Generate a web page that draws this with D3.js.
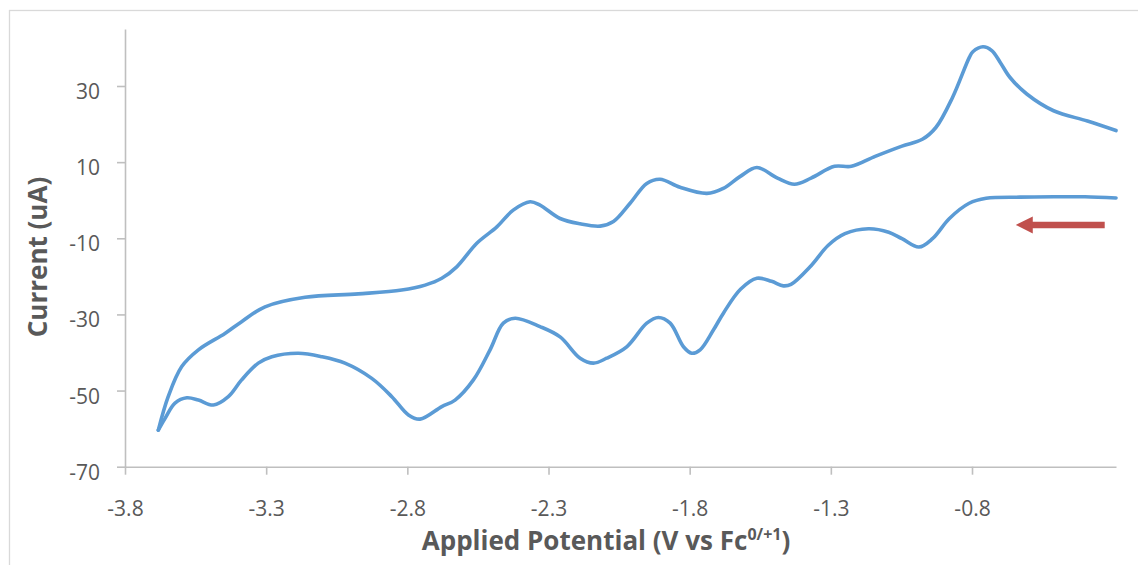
<!DOCTYPE html>
<html>
<head>
<meta charset="utf-8">
<script src="https://cdn.jsdelivr.net/npm/d3@7"></script>
<style>
  body { margin: 0; background: #fff; }
  svg { display: block; }
  text { font-family: "Open Sans", "Noto Sans", sans-serif; }
</style>
</head>
<body>
<svg id="chart" width="1138" height="565"></svg>
<script>
// Cyclic voltammogram: forward (cathodic) sweep from the rest potential toward -3.7 V,
// then the reverse (anodic) sweep back. Potentials in V vs Fc0/+1, currents in uA.
const forwardPotential = [-0.29, -0.40, -0.51, -0.63, -0.75, -0.81, -0.88, -0.94, -0.988, -1.048,
  -1.095, -1.167, -1.25, -1.31, -1.37, -1.441, -1.468, -1.51, -1.562, -1.62,
  -1.68, -1.716, -1.763, -1.793, -1.822, -1.869, -1.911, -1.952, -2.023, -2.094,
  -2.141, -2.188, -2.259, -2.33, -2.418, -2.46, -2.507, -2.566, -2.631, -2.678,
  -2.755, -2.796, -2.855, -2.926, -3.021, -3.103, -3.186, -3.28, -3.328, -3.387,
  -3.434, -3.487, -3.54, -3.581, -3.623, -3.658, -3.682];
const forwardCurrent = [0.6, 0.9, 0.9, 0.8, 0.5, -0.8, -4.8, -10.1, -12.3, -10.1,
  -8.4, -7.5, -8.8, -11.9, -17.2, -22.1, -22.5, -21.3, -20.5, -23.4,
  -29.6, -34.1, -39.3, -40.2, -38.5, -32.3, -30.8, -32.3, -38.5, -41.5,
  -42.8, -41.5, -35.9, -33.2, -31.0, -32.3, -39.3, -47.2, -52.5, -54.2,
  -57.5, -56.4, -51.6, -46.8, -42.8, -41.1, -40.2, -41.1, -42.8, -47.2,
  -51.6, -53.8, -52.5, -51.9, -53.3, -57.3, -60.4];

const reversePotential = [-3.682, -3.647, -3.599, -3.54, -3.446, -3.387, -3.304, -3.162, -2.974, -2.82,
  -2.737, -2.678, -2.625, -2.554, -2.483, -2.425, -2.365, -2.33, -2.259, -2.188,
  -2.117, -2.07, -2.011, -1.952, -1.905, -1.834, -1.739, -1.681, -1.622, -1.562,
  -1.489, -1.429, -1.37, -1.287, -1.227, -1.143, -1.048, -0.976, -0.928, -0.869,
  -0.809, -0.797, -0.761, -0.73, -0.70, -0.666, -0.606, -0.511, -0.391, -0.29];
const reverseCurrent = [-60.4, -51.6, -43.7, -39.3, -35.0, -31.9, -28.0, -25.5, -24.6, -23.6,
  -22.3, -20.5, -17.5, -11.3, -7.0, -2.6, -0.4, -1.3, -4.8, -6.2,
  -6.8, -5.6, -0.8, 4.4, 5.5, 3.4, 1.8, 3.1, 6.2, 8.6,
  5.8, 4.2, 5.8, 8.9, 8.9, 11.5, 14.2, 16.0, 19.1, 27.0,
  37.6, 39.0, 40.3, 39.3, 36.2, 32.3, 27.9, 23.5, 20.8, 18.3];

const xTickValues = [-3.8, -3.3, -2.8, -2.3, -1.8, -1.3, -0.8];
const yTickValues = [-70, -50, -30, -10, 10, 30];

// Scan-direction arrow (start and end potential, current level)
const arrowPotential = [-0.33, -0.645];
const arrowCurrent = [-6.5, -6.5];

const svg = d3.select("#chart");

// chart frame
svg.append("rect")
  .attr("x", 9.5).attr("y", 10.5)
  .attr("width", 1300).attr("height", 700)
  .attr("fill", "#fff").attr("stroke", "#D9D9D9").attr("stroke-width", 1.3);

const x = d3.scaleLinear().domain([-3.8, -0.29]).range([125, 1116]);
const y = d3.scaleLinear().domain([-70, 45]).range([466.7, 28.9]);

const axisColor = "#BFBFBF";
const labelColor = "#595959";

function styleAxis(g) {
  g.attr("font-family", null).attr("font-size", null);
  g.select(".domain").attr("stroke", axisColor).attr("stroke-width", 1.6);
  g.selectAll(".tick line").attr("stroke", axisColor).attr("stroke-width", 1.6);
  g.selectAll(".tick text").attr("fill", labelColor).style("font-size", "21px");
}

// x axis
const gx = svg.append("g")
  .attr("transform", `translate(0,${y(-70)})`)
  .call(d3.axisBottom(x).tickValues(xTickValues).tickSize(8).tickSizeOuter(0)
    .tickFormat(d => d.toFixed(1)))
  .call(styleAxis);
gx.selectAll(".tick text").attr("y", 49).attr("dy", 0);

// y axis
const gy = svg.append("g")
  .attr("transform", `translate(${x(-3.8)},0)`)
  .call(d3.axisLeft(y).tickValues(yTickValues).tickSize(8).tickSizeOuter(0)
    .tickFormat(d => String(d)))
  .call(styleAxis);
gy.selectAll(".tick text").attr("x", -25).attr("dy", 12.5);

// voltammogram traces
const line = d3.line()
  .x(d => x(d[0]))
  .y(d => y(d[1]))
  .curve(d3.curveCatmullRom.alpha(0.5));

const forward = d3.zip(forwardPotential, forwardCurrent);
const reverse = d3.zip(reversePotential, reverseCurrent);

svg.selectAll("path.trace")
  .data([forward, reverse])
  .join("path")
  .attr("class", "trace")
  .attr("d", line)
  .attr("fill", "none")
  .attr("stroke", "#5B9BD5")
  .attr("stroke-width", 3.6)
  .attr("stroke-linejoin", "round")
  .attr("stroke-linecap", "round");

// scan direction arrow
const ax0 = x(arrowPotential[0]), ax1 = x(arrowPotential[1]), ay = y(arrowCurrent[0]);
const headLen = 17, headHalf = 8.5, shaftHalf = 3.2;
svg.append("path")
  .attr("d", `M${ax1},${ay} L${ax1 + headLen},${ay - headHalf} L${ax1 + headLen},${ay - shaftHalf}
    L${ax0},${ay - shaftHalf} L${ax0},${ay + shaftHalf} L${ax1 + headLen},${ay + shaftHalf}
    L${ax1 + headLen},${ay + headHalf} Z`)
  .attr("fill", "#C0504D");

// axis titles
const xTitle = svg.append("text")
  .attr("x", 606).attr("y", 550)
  .attr("text-anchor", "middle")
  .attr("fill", labelColor)
  .style("font-size", "26px").style("font-weight", "bold");
xTitle.append("tspan").text("Applied Potential (V vs Fc");
xTitle.append("tspan").attr("dy", -10).style("font-size", "16px").text("0/+1");
xTitle.append("tspan").attr("dy", 10).text(")");

svg.append("text")
  .attr("transform", "translate(47,257) rotate(-90)")
  .attr("text-anchor", "middle")
  .attr("fill", labelColor)
  .style("font-size", "26px").style("font-weight", "bold")
  .text("Current (uA)");
</script>
</body>
</html>
